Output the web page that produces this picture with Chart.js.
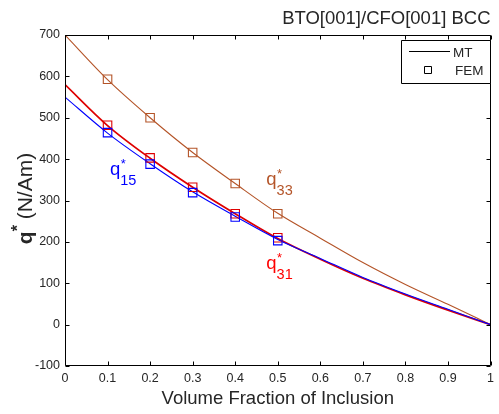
<!DOCTYPE html>
<html>
<head>
<meta charset="utf-8">
<script src="https://cdn.jsdelivr.net/npm/chart.js@4"></script>
<style>
html,body{margin:0;padding:0;background:#fff;}
#wrap{width:499px;height:414px;position:relative;}
canvas{display:block;}
</style>
</head>
<body>
<div id="wrap"><canvas id="c" width="499" height="414"></canvas></div>
<script>
// ---- data ----
const volumeFraction = [0, 0.1, 0.2, 0.3, 0.4, 0.5, 0.6, 0.7, 0.8, 0.9, 1.0];
const q33MT = [700, 592, 500, 416, 341, 269, 209, 150, 97, 49, 0];
const q31MT = [580, 481, 402, 332, 268, 208, 158, 112, 72, 35, 0];
const q15MT = [550, 463, 389, 321, 262, 206, 160, 114, 74, 37, 0];

const femFraction = [0.1, 0.2, 0.3, 0.4, 0.5];
const q33FEM = [593, 500, 416, 341, 268];
const q31FEM = [482, 403, 332, 268, 210];
const q15FEM = [464, 388, 319, 260, 203];

const xTicks = [0, 0.1, 0.2, 0.3, 0.4, 0.5, 0.6, 0.7, 0.8, 0.9, 1];
const yTicks = [-100, 0, 100, 200, 300, 400, 500, 600, 700];

const titleText = 'BTO[001]/CFO[001] BCC';
const xTitle = 'Volume Fraction of Inclusion';
const legendLabels = ['MT', 'FEM'];

// ---- styles ----
const BROWN = 'rgb(180,84,40)';
const RED = 'rgb(222,0,0)';
const BLUE = 'rgb(0,0,255)';
const TXT = '#262626';
const FONT = '"Liberation Sans", Arial, sans-serif';

const pts = (xs, ys) => xs.map((x, i) => ({x: x, y: ys[i]}));

const decor = {
  id: 'decor',
  afterDraw(chart) {
    const ctx = chart.ctx;
    const a = chart.chartArea;
    const xs = chart.scales.x, ys = chart.scales.y;
    ctx.save();
    // frame
    ctx.strokeStyle = '#000';
    ctx.lineWidth = 1;
    const L = Math.round(a.left) + 0.5, R = Math.round(a.right) - 0.5;
    const T = Math.round(a.top) + 0.5, B = Math.round(a.bottom) - 0.5;
    ctx.beginPath();
    ctx.rect(L, T, R - L, B - T);
    ctx.stroke();
    // inward ticks on all sides
    ctx.beginPath();
    const tl = 4;
    xTicks.forEach(v => {
      const px = Math.round(xs.getPixelForValue(v)) + 0.5;
      ctx.moveTo(px, B); ctx.lineTo(px, B - tl);
      ctx.moveTo(px, T); ctx.lineTo(px, T + tl);
    });
    yTicks.forEach(v => {
      const py = Math.round(ys.getPixelForValue(v)) + 0.5;
      ctx.moveTo(L, py); ctx.lineTo(L + tl, py);
      ctx.moveTo(R, py); ctx.lineTo(R - tl, py);
    });
    ctx.stroke();

    // title (top right)
    ctx.fillStyle = TXT;
    ctx.font = '18.5px ' + FONT;
    ctx.textAlign = 'right';
    ctx.textBaseline = 'alphabetic';
    ctx.fillText(titleText, a.right, 24);

    // x title
    ctx.textAlign = 'center';
    ctx.fillText(xTitle, (a.left + a.right) / 2, 404);

    // y title, rotated: bold q, superscript *, then (N/Am)
    ctx.save();
    ctx.translate(31.5, (a.top + a.bottom) / 2 - 2);
    ctx.rotate(-Math.PI / 2);
    ctx.textAlign = 'left';
    ctx.font = 'bold 21px ' + FONT;
    const wq = ctx.measureText('q').width;
    ctx.font = 'bold 16px ' + FONT;
    const ws = ctx.measureText('*').width;
    ctx.font = '21px ' + FONT;
    const wr = ctx.measureText(' (N/Am)').width;
    let x0 = -(wq + ws + wr) / 2;
    ctx.font = 'bold 21px ' + FONT;
    ctx.fillText('q', x0, 0);
    ctx.font = 'bold 16px ' + FONT;
    ctx.fillText('*', x0 + wq, -9);
    ctx.font = '21px ' + FONT;
    ctx.fillText(' (N/Am)', x0 + wq + ws, 0);
    ctx.restore();

    // curve labels q*_{ij}
    function qlabel(vx, vy, sub, color) {
      const px = xs.getPixelForValue(vx), py = ys.getPixelForValue(vy);
      ctx.fillStyle = color;
      ctx.textAlign = 'left';
      ctx.font = '18.5px ' + FONT;
      ctx.fillText('q', px, py);
      const w = ctx.measureText('q').width;
      ctx.font = '13px ' + FONT;
      ctx.fillText('*', px + w + 0.5, py - 7);
      ctx.font = '14.5px ' + FONT;
      ctx.fillText(sub, px + w, py + 10);
    }
    qlabel(0.1055, 361, '15', BLUE);
    qlabel(0.473, 337, '33', BROWN);
    qlabel(0.473, 135, '31', 'rgb(255,0,0)');

    // legend box
    ctx.fillStyle = '#fff';
    ctx.strokeStyle = '#000';
    ctx.lineWidth = 1;
    ctx.beginPath();
    ctx.rect(401.5, 40.5, 89, 43);
    ctx.fill();
    ctx.stroke();
    ctx.beginPath();
    ctx.moveTo(409, 51.5); ctx.lineTo(450, 51.5);
    ctx.stroke();
    ctx.beginPath();
    ctx.rect(424.5, 66.5, 7, 7);
    ctx.stroke();
    ctx.fillStyle = TXT;
    ctx.font = '13.5px ' + FONT;
    ctx.textAlign = 'left';
    ctx.fillText(legendLabels[0], 453, 56.5);
    ctx.fillText(legendLabels[1], 455, 75);
    ctx.restore();
  }
};

new Chart(document.getElementById('c'), {
  type: 'scatter',
  data: {
    datasets: [
      {label: 'q33 MT', data: pts(volumeFraction, q33MT), showLine: true, borderColor: BROWN, borderWidth: 1.1, pointRadius: 0, cubicInterpolationMode: 'monotone', order: 6},
      {label: 'q31 MT', data: pts(volumeFraction, q31MT), showLine: true, borderColor: RED, borderWidth: 1.7, pointRadius: 0, cubicInterpolationMode: 'monotone', order: 5},
      {label: 'q15 MT', data: pts(volumeFraction, q15MT), showLine: true, borderColor: BLUE, borderWidth: 1.1, pointRadius: 0, cubicInterpolationMode: 'monotone', order: 4},
      {label: 'q33 FEM', data: pts(femFraction, q33FEM), showLine: false, pointStyle: 'rect', pointRadius: 6, borderColor: BROWN, backgroundColor: 'rgba(0,0,0,0)', pointBorderWidth: 1.1, order: 3},
      {label: 'q31 FEM', data: pts(femFraction, q31FEM), showLine: false, pointStyle: 'rect', pointRadius: 6, borderColor: RED, backgroundColor: 'rgba(0,0,0,0)', pointBorderWidth: 1.1, order: 2},
      {label: 'q15 FEM', data: pts(femFraction, q15FEM), showLine: false, pointStyle: 'rect', pointRadius: 6, borderColor: BLUE, backgroundColor: 'rgba(0,0,0,0)', pointBorderWidth: 1.1, order: 1}
    ]
  },
  options: {
    responsive: false,
    devicePixelRatio: 1,
    animation: false,
    events: [],
    layout: {padding: {top: 35, right: 7.5, left: 0, bottom: 0}},
    plugins: {legend: {display: false}, tooltip: {enabled: false}, title: {display: false}},
    scales: {
      x: {
        type: 'linear', min: 0, max: 1,
        afterFit(s) { s.height = 48; },
        afterBuildTicks(s) { s.ticks = xTicks.map(v => ({value: v})); },
        grid: {display: false, drawTicks: false},
        border: {display: false},
        ticks: {padding: 5, color: TXT, font: {family: FONT, size: 12.5}, maxRotation: 0,
          callback: v => String(Number(v.toFixed(1)))}
      },
      y: {
        type: 'linear', min: -100, max: 700,
        afterFit(s) { s.width = 65; },
        afterBuildTicks(s) { s.ticks = yTicks.map(v => ({value: v})); },
        grid: {display: false, drawTicks: false},
        border: {display: false},
        ticks: {padding: 5, color: TXT, font: {family: FONT, size: 12.5}}
      }
    }
  },
  plugins: [decor]
});
</script>
</body>
</html>
